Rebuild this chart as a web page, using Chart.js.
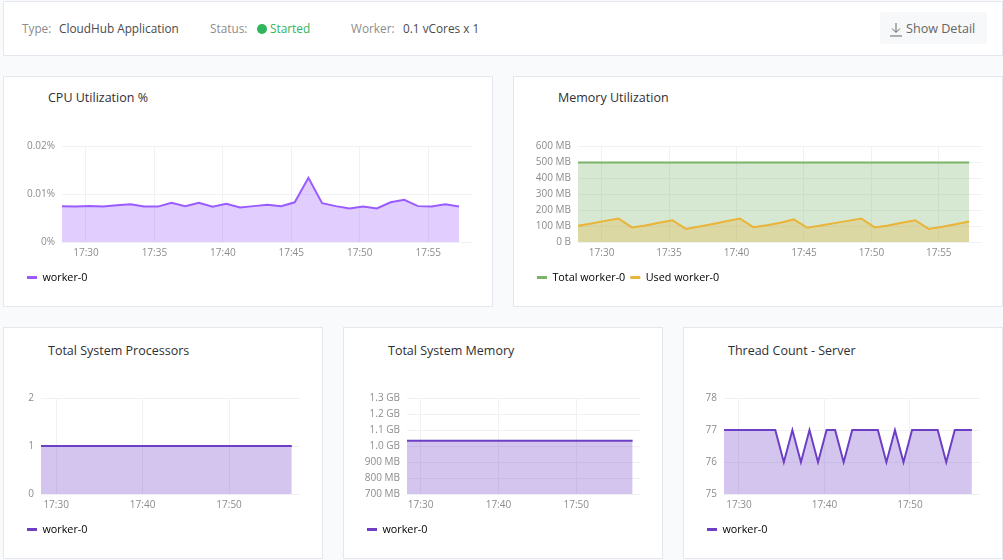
<!DOCTYPE html>
<html>
<head>
<meta charset="utf-8">
<script src="https://cdn.jsdelivr.net/npm/chart.js@4"></script>
<style>
    html, body { margin: 0; padding: 0; background: #f9fafc; }
    body { width: 1003px; height: 560px; position: relative; overflow: hidden; font-family: "Open Sans", sans-serif; }
    .card { position: absolute; background: #fff; border: 1px solid #e4e7ee; box-sizing: border-box; }
    .card h3 { position: absolute; margin: 0; font-size: 12.5px; font-weight: 400; color: #2f2f33; white-space: nowrap; }
    .card canvas { position: absolute; left: 0; top: 0; }
    .info { position: absolute; top: 20px; font-size: 11.8px; color: #8c8c8c; white-space: nowrap; }
    .info b { font-weight: 400; color: #4a4a4a; }
    .info .ok { color: #2fb65c; }
    .dot { position: absolute; left: 257px; top: 24px; width: 10px; height: 10px; border-radius: 50%; background: #2fb65c; }
    .btn { position: absolute; left: 880px; top: 12px; width: 107px; height: 32px; background: #f7f8fa; border-radius: 3px; font-size: 12.6px; color: #666; }
    .btn span { position: absolute; left: 26px; top: 8px; white-space: nowrap; }
    .btn svg { position: absolute; left: 9px; top: 10px; }
</style>
</head>
<body>
<div class="card" style="left:3px;top:1px;width:1000px;height:55px"></div>
<div class="info" style="left:22px">Type:</div>
<div class="info" style="left:59px"><b>CloudHub Application</b></div>
<div class="info" style="left:210px">Status:</div>
<div class="dot"></div>
<div class="info" style="left:270px"><span class="ok">Started</span></div>
<div class="info" style="left:351px">Worker:</div>
<div class="info" style="left:403px"><b>0.1 vCores x 1</b></div>
<div class="btn">
    <svg width="14" height="15" viewBox="0 0 14 15" fill="none" stroke="#666" stroke-width="1"><path d="M7 1v9M3 6.5L7 10.5L11 6.5M1 14h12"/></svg>
    <span>Show Detail</span>
</div>

<div class="card" id="cpuCard" style="left:3px;top:76px;width:490px;height:231px"><h3 style="left:44px;top:12px">CPU Utilization %</h3><canvas id="cpuChart"></canvas></div>
<div class="card" id="memCard" style="left:513px;top:76px;width:490px;height:231px"><h3 style="left:44px;top:12px">Memory Utilization</h3><canvas id="memChart"></canvas></div>
<div class="card" id="procCard" style="left:3px;top:327px;width:320px;height:232px"><h3 style="left:44px;top:14px">Total System Processors</h3><canvas id="procChart"></canvas></div>
<div class="card" id="sysCard" style="left:343px;top:327px;width:320px;height:232px"><h3 style="left:44px;top:14px">Total System Memory</h3><canvas id="sysChart"></canvas></div>
<div class="card" id="threadCard" style="left:683px;top:327px;width:320px;height:232px"><h3 style="left:44px;top:14px">Thread Count - Server</h3><canvas id="threadChart"></canvas></div>

<script>
// Minutes after 17:00 for each sample
const minutes = [28.25, 29.25, 30.25, 31.25, 32.25, 33.25, 34.25, 35.25, 36.25, 37.25, 38.25, 39.25, 40.25, 41.25, 42.25,
    43.25, 44.25, 45.25, 46.25, 47.25, 48.25, 49.25, 50.25, 51.25, 52.25, 53.25, 54.25, 55.25, 56.25, 57.25];

const cpuValues = [0.0075, 0.0074, 0.0075, 0.0074, 0.0077, 0.0079, 0.0074, 0.0074, 0.0082, 0.0075, 0.0082, 0.0074, 0.0080, 0.0072, 0.0075,
    0.0078, 0.0075, 0.0083, 0.0134, 0.0081, 0.0075, 0.0070, 0.0074, 0.0070, 0.0083, 0.0088, 0.0075, 0.0074, 0.0079, 0.0074];
const memTotal = [497, 497, 497, 497, 497, 497, 497, 497, 497, 497, 497, 497, 497, 497, 497,
    497, 497, 497, 497, 497, 497, 497, 497, 497, 497, 497, 497, 497, 497, 497];
const memUsed = [102, 117, 133, 148, 92, 104, 121, 137, 83, 98, 114, 131, 148, 94, 106,
    121, 142, 90, 104, 119, 133, 148, 92, 104, 121, 137, 83, 96, 112, 129];
const procValues = [1, 1, 1, 1, 1, 1, 1, 1, 1, 1, 1, 1, 1, 1, 1,
    1, 1, 1, 1, 1, 1, 1, 1, 1, 1, 1, 1, 1, 1, 1];
const sysMemValues = [1034, 1034, 1034, 1034, 1034, 1034, 1034, 1034, 1034, 1034, 1034, 1034, 1034, 1034, 1034,
    1034, 1034, 1034, 1034, 1034, 1034, 1034, 1034, 1034, 1034, 1034, 1034, 1034, 1034, 1034];
const threadValues = [77, 77, 77, 77, 77, 77, 77, 76, 77, 76, 77, 76, 77, 77, 76,
    77, 77, 77, 77, 76, 77, 76, 77, 77, 77, 77, 76, 77, 77, 77];

const purple = '#9a5cff';
const darkPurple = '#6c3fc4';

function clockLabel(value) {
    return '17:' + String(value).padStart(2, '0');
}

function memLabel(value) {
    if (value === 0) return '0 B';
    return value >= 1000 ? (value / 1000).toFixed(1) + ' GB' : value + ' MB';
}

function percentLabel(value) {
    return value === 0 ? '0%' : value.toFixed(2) + '%';
}

function series(label, values, color, fill, order) {
    return {
        label: label,
        data: values.map((v, i) => ({ x: minutes[i], y: v })),
        borderColor: color,
        backgroundColor: fill,
        borderWidth: 2,
        fill: 'start',
        tension: 0,
        pointRadius: 0,
        order: order || 0
    };
}

// Builds one card's chart; box holds the plot position inside the canvas
function drawChart(id, cardId, datasets, yOpts, xStep, box) {
    const card = document.getElementById(cardId);
    const canvas = document.getElementById(id);
    const w = card.clientWidth, h = card.clientHeight;
    canvas.style.width = w + 'px';
    canvas.style.height = h + 'px';
    canvas.width = w;
    canvas.height = h;

    new Chart(canvas, {
        type: 'line',
        data: { datasets: datasets },
        options: {
            responsive: false,
            animation: false,
            layout: { padding: { left: 18, right: w - box.right, top: box.top, bottom: 13 } },
            plugins: {
                tooltip: { enabled: false },
                legend: {
                    position: 'bottom',
                    align: 'start',
                    labels: {
                        boxWidth: 10,
                        boxHeight: 3,
                        padding: 5,
                        color: '#8c8c8c',
                        font: { family: '"Open Sans"', size: 10.8 },
                        generateLabels: chart => chart.data.datasets.map((d, i) => ({
                            text: d.label, fillStyle: d.borderColor, strokeStyle: d.borderColor, lineWidth: 0, datasetIndex: i
                        }))
                    }
                }
            },
            scales: {
                x: {
                    type: 'linear',
                    min: 28.25,
                    max: 58.2,
                    afterBuildTicks: axis => {
                        const ticks = [];
                        for (let v = 30; v <= 55; v += xStep) ticks.push({ value: v });
                        axis.ticks = ticks;
                    },
                    afterFit: axis => { axis.height = 25; },
                    border: { display: false },
                    grid: { color: '#f0f1f4', drawTicks: false },
                    ticks: {
                        autoSkip: false,
                        maxRotation: 0,
                        padding: 5,
                        color: '#8c8c8c',
                        font: { family: '"Open Sans"', size: 10 },
                        callback: clockLabel
                    }
                },
                y: Object.assign({
                    afterFit: axis => { axis.width = box.yWidth; },
                    border: { display: false },
                    grid: { color: '#f0f1f4', drawTicks: false },
                }, yOpts)
            }
        }
    });
}

function yTicks(values, format) {
    return {
        min: values[0],
        max: values[values.length - 1],
        afterBuildTicks: axis => { axis.ticks = values.map(v => ({ value: v })); },
        ticks: {
            autoSkip: false,
            padding: 7,
            color: '#8c8c8c',
            font: { family: '"Open Sans"', size: 10 },
            callback: format
        }
    };
}

const wideBox = { right: 468, top: 69, yWidth: 40 };
const smallBox = { right: 296, top: 70, yWidth: 19 };

drawChart('cpuChart', 'cpuCard', [series('worker-0', cpuValues, purple, 'rgba(154,92,255,0.3)')],
    yTicks([0, 0.01, 0.02], percentLabel), 5, wideBox);

drawChart('memChart', 'memCard', [
    series('Total worker-0', memTotal, '#7bb369', 'rgba(123,179,105,0.3)', 1),
    series('Used worker-0', memUsed, '#e9b437', 'rgba(233,180,55,0.3)', 0)
], yTicks([0, 100, 200, 300, 400, 500, 600], memLabel), 5, Object.assign({}, wideBox, { yWidth: 46 }));

drawChart('procChart', 'procCard', [series('worker-0', procValues, darkPurple, 'rgba(108,63,196,0.3)')],
    yTicks([0, 1, 2], String), 10, smallBox);

drawChart('sysChart', 'sysCard', [series('worker-0', sysMemValues, darkPurple, 'rgba(108,63,196,0.3)')],
    yTicks([700, 800, 900, 1000, 1100, 1200, 1300], memLabel), 10, Object.assign({}, smallBox, { yWidth: 45 }));

drawChart('threadChart', 'threadCard', [series('worker-0', threadValues, darkPurple, 'rgba(108,63,196,0.3)')],
    yTicks([75, 76, 77, 78], String), 10, Object.assign({}, smallBox, { yWidth: 22 }));
</script>
</body>
</html>
